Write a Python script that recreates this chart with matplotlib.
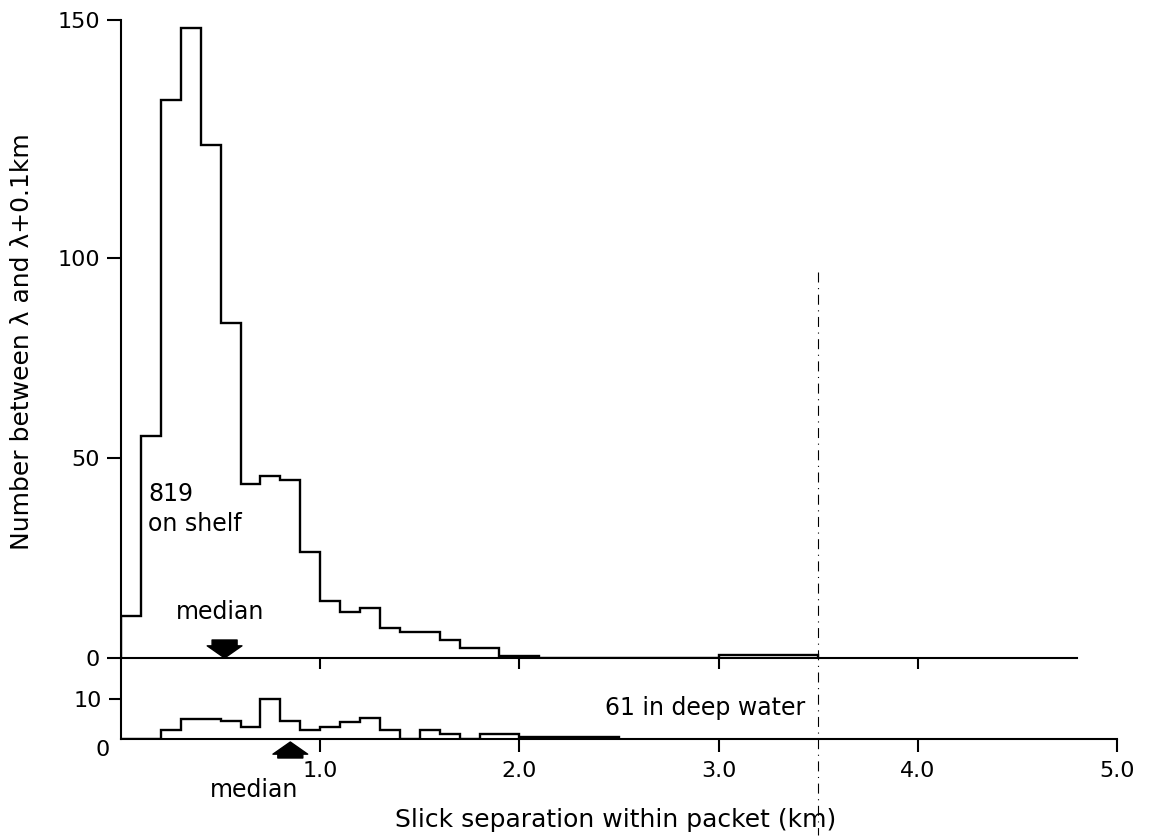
#Histogram of slick separations within a packet, shelf vs deep water

import numpy as np
import matplotlib.pyplot as plt

#bin width of both histograms (km)
bin_width = 0.1

#number of slicks per 0.1 km bin on the shelf, from 0.0 km up to 3.5 km
shelf_counts = [10.5, 55.5, 139.5, 157.5, 128.25, 83.75, 43.5, 45.5, 44.5, 26.5,
                14.25, 11.5, 12.5, 7.5, 6.5, 6.5, 4.5, 2.5, 2.5, 0.5,
                0.5, 0, 0, 0, 0, 0, 0, 0, 0, 0,
                0.75, 0.75, 0.75, 0.75, 0.75]

#number of slicks per 0.1 km bin in deep water, from 0.0 km up to 2.5 km
deep_counts = [0, 0, 2.25, 5.1, 5.1, 4.4, 3.1, 10, 4.4, 2.25,
               3.1, 4.3, 5.25, 2.25, 0, 2.25, 1.3, 0, 1.2, 1.2,
               0.6, 0.6, 0.6, 0.6, 0.6]

median_shelf = 0.52
median_deep = 0.85
shelf_total = 819
deep_total = 61
cutoff = 3.5

x_ticks = [1.0, 2.0, 3.0, 4.0, 5.0]
x_tick_labels = ["1.0", "2.0", "3.0", "4.0", "5.0"]
shelf_ticks = [0, 50, 100, 159.5]
shelf_tick_labels = ["0", "50", "100", "150"]
deep_ticks = [10]
deep_tick_labels = ["10"]

plt.rcParams['font.family'] = ['DejaVu Sans']

W, H = 1153, 839
fig = plt.figure(figsize=(W / 100, H / 100), dpi=100)

#axes placed from the pixel layout of the original figure
left = 121 / W
width = 996 / W
ax_top = fig.add_axes([left, (H - 658) / H, width, 638 / H])
ax_bot = fig.add_axes([left, (H - 739) / H, width, 81 / H])

line_w = 1.7
spine_w = 1.5
tick_size = 16
note_size = 17
label_size = 18

for ax in (ax_top, ax_bot):
	ax.set_xlim(0, 5.0)
	ax.patch.set_alpha(0)
	for s in ("top", "right"):
		ax.spines[s].set_visible(False)
	ax.spines["left"].set_linewidth(spine_w)
	ax.spines["bottom"].set_linewidth(spine_w)
	ax.tick_params(width=spine_w, labelsize=tick_size, colors="black")

#top panel (shelf)
shelf_edges = np.arange(len(shelf_counts) + 1) * bin_width
ax_top.stairs(shelf_counts, shelf_edges, baseline=0, color="black", linewidth=line_w)
ax_top.set_ylim(0, 159.5)
ax_top.spines["bottom"].set_visible(False)
ax_top.axhline(0, xmin=0, xmax=4.8 / 5.0, color="black", linewidth=spine_w, clip_on=False)
ax_top.set_xticks(x_ticks[:4])
ax_top.tick_params(axis="x", direction="out", length=8, labelbottom=False)
ax_top.set_yticks(shelf_ticks)
ax_top.set_yticklabels(shelf_tick_labels)
ax_top.tick_params(axis="y", length=10, pad=5)

#bottom panel (deep water)
deep_edges = np.arange(len(deep_counts) + 1) * bin_width
ax_bot.stairs(deep_counts, deep_edges, baseline=0, color="black", linewidth=line_w)
ax_bot.set_ylim(0, 20.25)
ax_bot.set_xticks(x_ticks)
ax_bot.set_xticklabels(x_tick_labels)
ax_bot.tick_params(axis="x", direction="out", length=9.5, pad=6)
ax_bot.set_yticks(deep_ticks)
ax_bot.set_yticklabels(deep_tick_labels)
ax_bot.tick_params(axis="y", length=9, pad=5)
#the zero of the lower panel sits a little below its axis
ax_bot.annotate("0", xy=(0, 0), xycoords="data", xytext=(-8, -8), textcoords="offset points",
                ha="right", va="center", fontsize=tick_size, annotation_clip=False)

#median arrows
arrow_style = "simple,head_length=0.35,head_width=1.0,tail_width=0.72"
ax_top.annotate("", xy=(median_shelf, 0), xytext=(median_shelf, 4.5),
                arrowprops=dict(arrowstyle=arrow_style, mutation_scale=25, fc="black",
                                ec="black", shrinkA=0, shrinkB=0))
ax_bot.annotate("", xy=(median_deep, -0.75), xytext=(median_deep, -4.75),
                arrowprops=dict(arrowstyle=arrow_style, mutation_scale=25, fc="black",
                                ec="black", shrinkA=0, shrinkB=0),
                annotation_clip=False)
ax_top.text(0.497, 11.5, "median", ha="center", va="center", fontsize=note_size)
ax_bot.text(0.67, -12.75, "median", ha="center", va="center", fontsize=note_size, clip_on=False)

#counts
ax_top.text(0.136, 37.25, str(shelf_total) + "\non shelf", ha="left", va="center",
            fontsize=note_size, linespacing=1.35)
ax_bot.text(2.43, 7.75, str(deep_total) + " in deep water", ha="left", va="center",
            fontsize=note_size)

#shelf edge cut-off line
ax_top.plot([cutoff, cutoff], [96.5, -44.25], color="black", linewidth=0.8,
            linestyle=(0, (9, 5, 1, 5)), clip_on=False, zorder=1)

#axis labels
fig.text(22 / W, 1 - 342 / H, "Number between λ and λ+0.1km", rotation=90,
         ha="center", va="center", fontsize=label_size)
fig.text(616 / W, 1 - 820 / H, "Slick separation within packet (km)",
         ha="center", va="center", fontsize=label_size)

plt.savefig("out.png", dpi=100)
